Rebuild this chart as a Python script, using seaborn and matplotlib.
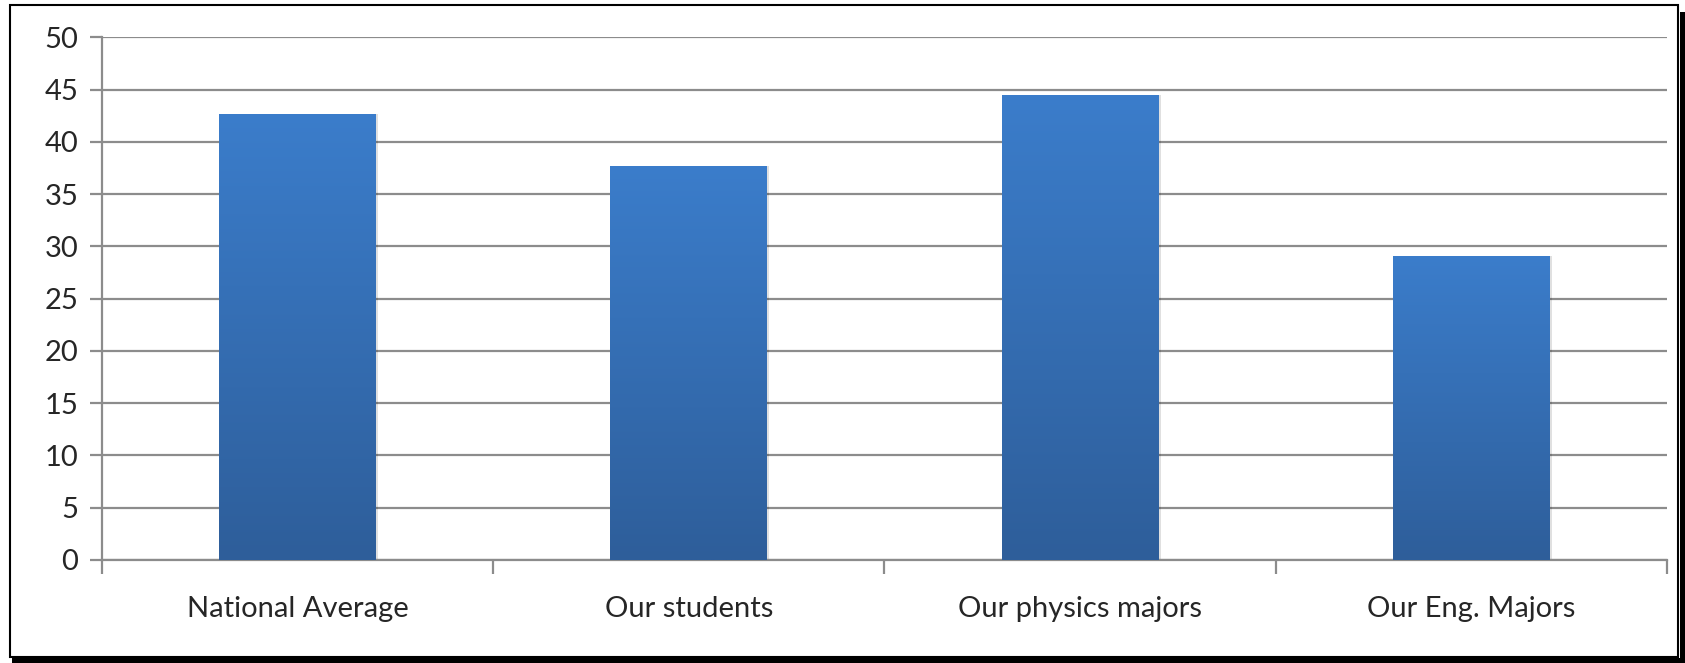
import numpy as np
import pandas as pd
import matplotlib
matplotlib.use('Agg')
import matplotlib.pyplot as plt
import seaborn as sns
from matplotlib.patches import Rectangle
from matplotlib.colors import LinearSegmentedColormap

# Chart data
categories = ['National Average', 'Our students', 'Our physics majors', 'Our Eng. Majors']
values = [42.7, 37.7, 44.5, 29.1]
y_ticks = [0, 5, 10, 15, 20, 25, 30, 35, 40, 45, 50]

df = pd.DataFrame({'group': categories, 'value': values})

sns.set_style('white')
plt.rcParams['font.family'] = ['Lato', 'DejaVu Sans']

fig = plt.figure(figsize=(16.85, 6.63), dpi=100)
ax = fig.add_axes([0.0604, 0.1554, 0.9289, 0.7883])

sns.barplot(data=df, x='group', y='value', color='#3A7BC8', width=0.4, ax=ax,
            zorder=3, linewidth=0)

# gradient fill on each bar
grad = LinearSegmentedColormap.from_list('g', ['#2E5E9A', '#3B7DCB'])
for bar in ax.patches:
    x0, y0 = bar.get_x(), bar.get_y()
    w, h = bar.get_width(), bar.get_height()
    # soft shadow
    ax.add_patch(Rectangle((x0 + 0.006, y0), w, h, facecolor='#000000', alpha=0.12,
                           edgecolor='none', zorder=2.5))
    img = ax.imshow(np.linspace(0, 1, 256).reshape(-1, 1), cmap=grad, aspect='auto',
                    extent=[x0, x0 + w, y0, y0 + h], origin='lower', zorder=3.5)
    img.set_clip_path(bar)
    bar.set_facecolor('none')
    bar.set_edgecolor('none')

ax.set_xlim(-0.5, len(categories) - 0.5)
ax.set_ylim(0, 50)
ax.set_yticks(y_ticks)
ax.yaxis.grid(True, color='#8C8C8C', linewidth=1.6, zorder=0)
ax.set_axisbelow(True)
ax.set_xlabel('')
ax.set_ylabel('')

# category labels centred, tick marks at boundaries
ax.set_xticks(range(len(categories)))
ax.set_xticklabels(categories, fontsize=21)
ax.tick_params(axis='x', which='major', length=0, pad=26)
ax.set_xticks(np.arange(-0.5, len(categories), 1), minor=True)
ax.tick_params(axis='x', which='minor', length=10, width=1.6, color='#8C8C8C', direction='out')
ax.tick_params(axis='y', length=9, width=1.6, color='#8C8C8C', labelsize=21, pad=8)
ax.tick_params(axis='y', left=True)
ax.tick_params(axis='x', bottom=True, which='minor')

for s in ['top', 'right']:
    ax.spines[s].set_visible(False)
for s in ['left', 'bottom']:
    ax.spines[s].set_color('#8C8C8C')
    ax.spines[s].set_linewidth(1.6)

# outer frame with shadow
fig.patches.append(Rectangle((12 / 1685, 0), 1 - 12 / 1685, 5 / 663,
                             transform=fig.transFigure, facecolor='black', edgecolor='none'))
fig.patches.append(Rectangle((1 - 5 / 1685, 0), 5 / 1685, 1 - 12 / 663,
                             transform=fig.transFigure, facecolor='black', edgecolor='none'))
fig.patches.append(Rectangle((10 / 1685, 6 / 663), 1 - 17 / 1685, 1 - 11 / 663,
                             transform=fig.transFigure, facecolor='none', edgecolor='black',
                             linewidth=1.5))

fig.savefig('out.png', dpi=100)
